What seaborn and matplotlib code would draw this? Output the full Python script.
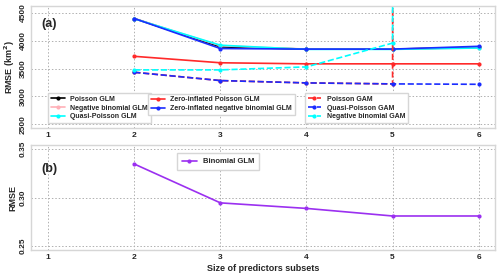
import numpy as np
import pandas as pd
import matplotlib
matplotlib.use("Agg")
import matplotlib.pyplot as plt
import seaborn as sns

# subset sizes
sizes = [2, 3, 4, 5, 6]

# panel (a): RMSE (km2); 1e6 = value far off the chart
poisson_glm = [4400, 3890, 3850, 3850, 3880]
negbin_glm = [4400, 3910, 3850, 3850, 3870]
quasi_glm = [4395, 3920, 3845, 3845, 3870]
zip_glm = [3720, 3604, 3585, 3585, 3585]
zinb_glm = [4400, 3860, 3850, 3850, 3900]
poisson_gam = [3433, 3284, 3242, 3224, 1e6]
quasi_gam = [3433, 3284, 3242, 3224, 3217]
negbin_gam = [3476, 3476, 3530, 3958, 1e6]

# panel (b): RMSE
binomial_glm = [0.3345, 0.2945, 0.2888, 0.281, 0.281]

series = [
    ("Poisson GLM", poisson_glm, "black", "-"),
    ("Negative binomial GLM", negbin_glm, "#ffb0b8", "-"),
    ("Quasi-Poisson GLM", quasi_glm, "cyan", "-"),
    ("Zero-inflated Poisson GLM", zip_glm, "#ff2a2a", "-"),
    ("Zero-inflated negative binomial GLM", zinb_glm, "#1a2cff", "-"),
    ("Poisson GAM", poisson_gam, "#ff2a2a", "--"),
    ("Quasi-Poisson GAM", quasi_gam, "#1a2cff", "--"),
    ("Negative binomial GAM", negbin_gam, "cyan", "--"),
]

sns.set_theme(style="white")
plt.rcParams["font.family"] = ["Liberation Sans", "DejaVu Sans"]
plt.rcParams["font.weight"] = "bold"

fig = plt.figure(figsize=(5, 2.79), dpi=100)
ax1 = fig.add_axes([0.062, 0.541, 0.928, 0.4375])
ax2 = fig.add_axes([0.062, 0.104, 0.928, 0.376])

grid_kw = dict(color="#b0b0b0", linestyle=(0, (1.5, 2)), linewidth=0.7)

handles = []
for name, vals, col, ls in series:
    sns.lineplot(x=sizes, y=vals, ax=ax1, color=col, linestyle=ls, linewidth=1.2,
                 marker="o", markersize=3, markeredgewidth=0, label=name, legend=False)
    handles.append(ax1.lines[-1])

sns.lineplot(x=sizes, y=binomial_glm, ax=ax2, color="#9b30f0", linewidth=1.2,
             marker="o", markersize=3, markeredgewidth=0, label="Binomial GLM", legend=False)

for ax in (ax1, ax2):
    ax.set_xlim(0.8, 6.19)
    ax.set_xticks([1, 2, 3, 4, 5, 6])
    ax.grid(True, **grid_kw)
    ax.set_axisbelow(True)
    for sp in ax.spines.values():
        sp.set_color("#d6d6d6")
        sp.set_linewidth(1.0)
    ax.tick_params(axis="both", length=0, labelsize=6, pad=3)
    for lab in ax.get_xticklabels():
        lab.set_fontweight("bold")

ax1.set_ylim(2430, 4625)
ax1.set_yticks([2500, 3000, 3500, 4000, 4500])
ax1.set_yticklabels(["2500", "3000", "3500", "4000", "4500"], rotation=90, va="center", fontweight="bold")
ax2.set_ylim(0.246, 0.354)
ax2.set_yticks([0.25, 0.30, 0.35])
ax2.set_yticklabels(["0.25", "0.30", "0.35"], rotation=90, va="center", fontweight="bold")

ax1.set_ylabel("RMSE (km$^\\mathbf{2}$)", fontsize=6.5, fontweight="bold", labelpad=2)
ax2.set_ylabel("RMSE", fontsize=6.5, fontweight="bold", labelpad=2)
ax2.set_xlabel("Size of predictors subsets", fontsize=6.5, fontweight="bold", labelpad=2)

ax1.text(0.022, 0.83, "(a)", transform=ax1.transAxes, fontsize=9, fontweight="bold")
ax2.text(0.022, 0.74, "(b)", transform=ax2.transAxes, fontsize=9, fontweight="bold")

leg_kw = dict(loc="lower left", frameon=True, fancybox=False,
              edgecolor="#d6d6d6", framealpha=1, borderaxespad=0,
              handlelength=2.0, handletextpad=0.8, labelspacing=0.25,
              borderpad=0.4, prop={"weight": "bold", "size": 5})
l1 = ax1.legend(handles=handles[0:3], bbox_to_anchor=(0.037, 0.041), **leg_kw)
ax1.add_artist(l1)
l2 = ax1.legend(handles=handles[3:5], bbox_to_anchor=(0.252, 0.107), **leg_kw)
ax1.add_artist(l2)
l3 = ax1.legend(handles=handles[5:8], bbox_to_anchor=(0.59, 0.041), **leg_kw)

ax2.legend(loc="upper left", bbox_to_anchor=(0.315, 0.92), fancybox=False,
           edgecolor="#d6d6d6", framealpha=1, borderaxespad=0, handlelength=2.0,
           borderpad=0.6, prop={"weight": "bold", "size": 5.5})

fig.savefig("out.png", dpi=100)
